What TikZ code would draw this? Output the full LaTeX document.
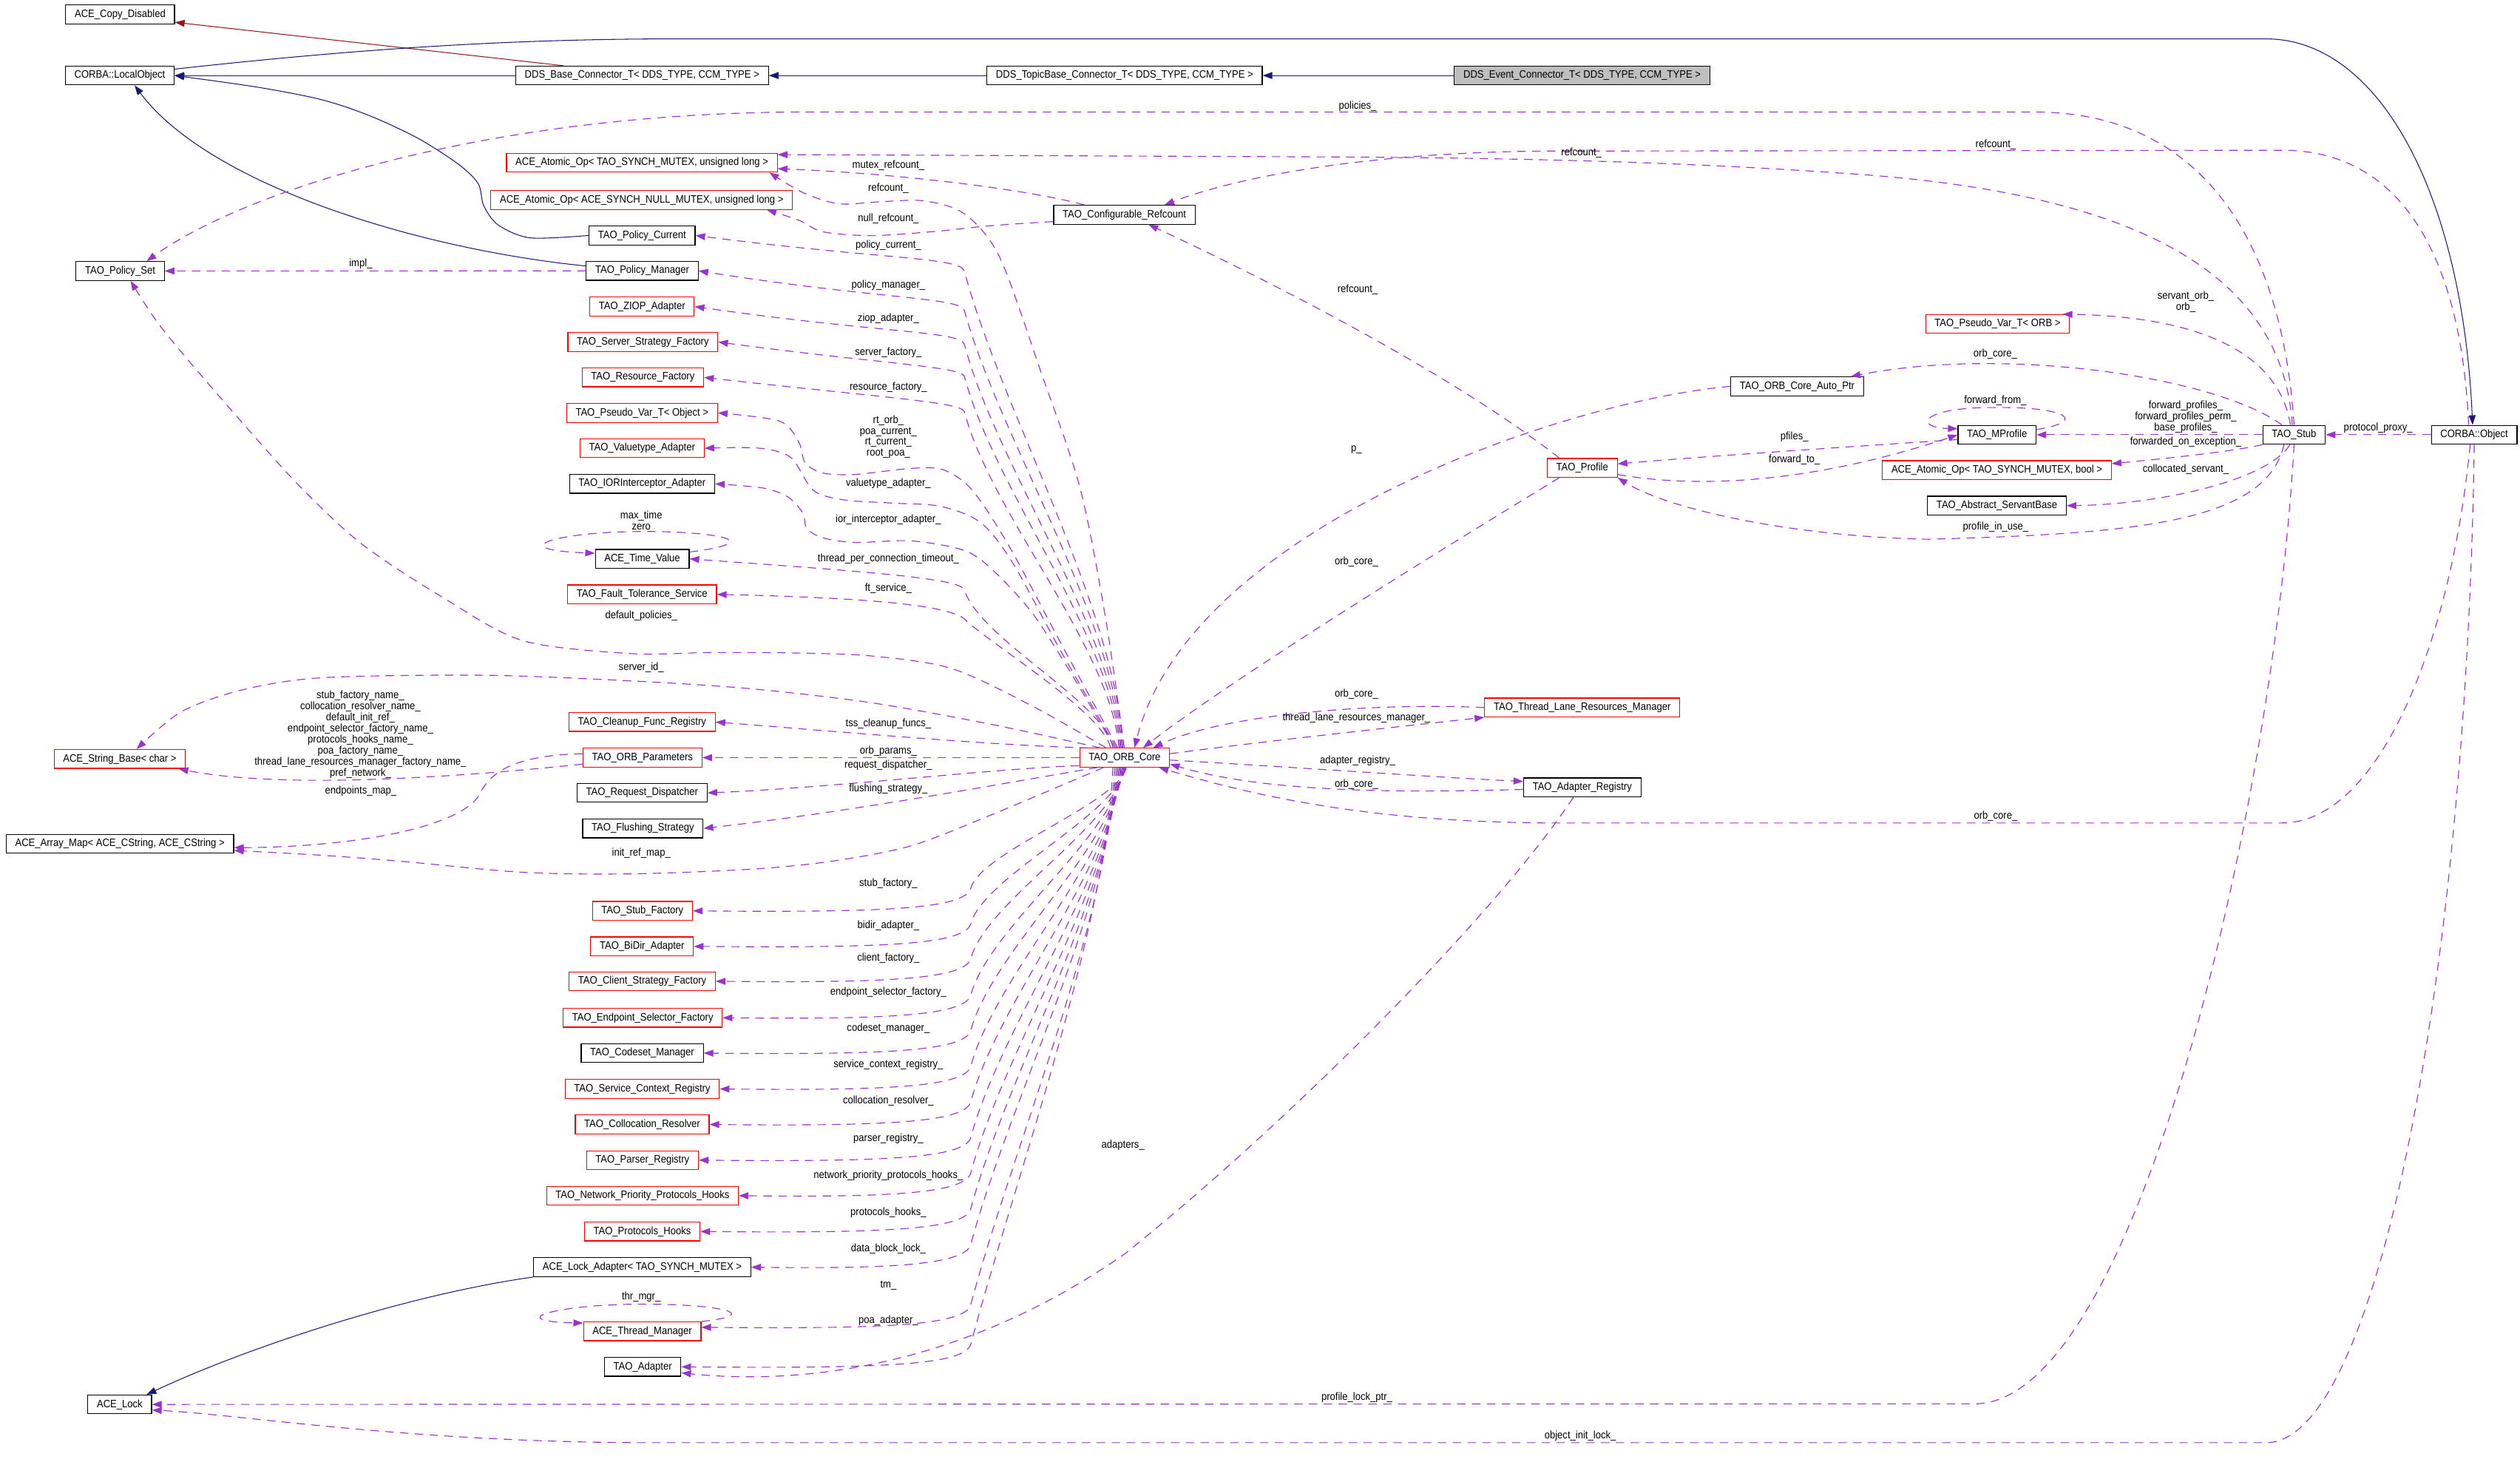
\documentclass[tikz,border=0pt]{standalone}
\usepackage{fontspec}
\newfontfamily\dotfont{Liberation Sans}[FakeStretch=0.9]
\usetikzlibrary{arrows.meta}
\definecolor{inhblue}{HTML}{191970}
\definecolor{privred}{HTML}{8B1A1A}
\definecolor{usepurple}{HTML}{9A32CD}
\newcommand{\dotsize}{\dotfont\fontsize{7.6pt}{7.8pt}\selectfont}
\tikzset{
    cls/.style={draw=black, fill=white, line width=0.6pt, font=\dotsize, inner xsep=0.225cm, inner ysep=0pt, minimum height=0.468cm},
    undoc/.style={cls, draw=red},
    self/.style={cls, fill=black!25},
    inherit/.style={draw=inhblue, line width=0.55pt, -{Triangle[length=0.24cm,width=0.17cm]}},
    privinherit/.style={inherit, draw=privred},
    assoc/.style={draw=usepurple, line width=0.6pt, dash pattern=on 6pt off 4.5pt, -{Triangle[length=0.24cm,width=0.17cm]}},
    lbl/.style={font=\dotsize, inner sep=0pt, align=center},
}
\begin{document}
\begin{tikzpicture}[x=0.04cm, y=-0.04cm]
\useasboundingbox (0,0) rectangle (1568,909.5);

%left column
\node[cls] (copy) at (74.75,9) {ACE\_Copy\_Disabled};
\node[cls] (lobj) at (74.5,47) {CORBA::LocalObject};
\node[cls] (pset) at (74.75,168.6) {TAO\_Policy\_Set};
\node[undoc] (sb) at (74.5,472.2) {ACE\_String\_Base< char >};
\node[cls] (am) at (74.6,524.9) {ACE\_Array\_Map< ACE\_CString, ACE\_CString >};
\node[cls] (lock) at (74.5,873.8) {ACE\_Lock};

%top row
\node[cls] (base) at (399.5,47) {DDS\_Base\_Connector\_T< DDS\_TYPE, CCM\_TYPE >};
\node[cls] (topic) at (699.75,47) {DDS\_TopicBase\_Connector\_T< DDS\_TYPE, CCM\_TYPE >};
\node[self] (event) at (984.4,47) {DDS\_Event\_Connector\_T< DDS\_TYPE, CCM\_TYPE >};

%member column
\node[undoc] (aotul) at (399.4,101.2) {ACE\_Atomic\_Op< TAO\_SYNCH\_MUTEX, unsigned long >};
\node[undoc] (aonul) at (399.25,124.4) {ACE\_Atomic\_Op< ACE\_SYNCH\_NULL\_MUTEX, unsigned long >};
\node[cls] (pcur) at (399.5,146.5) {TAO\_Policy\_Current};
\node[cls] (pman) at (399.6,168.5) {TAO\_Policy\_Manager};
\node[undoc] (ziop) at (399.5,190.7) {TAO\_ZIOP\_Adapter};
\node[undoc] (ssf) at (400,212.8) {TAO\_Server\_Strategy\_Factory};
\node[undoc] (rf) at (400,234.8) {TAO\_Resource\_Factory};
\node[undoc] (pvo) at (399.5,256.9) {TAO\_Pseudo\_Var\_T< Object >};
\node[undoc] (vta) at (399.5,278.9) {TAO\_Valuetype\_Adapter};
\node[cls] (iora) at (399.5,301) {TAO\_IORInterceptor\_Adapter};
\node[cls] (tv) at (399.6,347.7) {ACE\_Time\_Value};
\node[undoc] (fts) at (399.5,369.8) {TAO\_Fault\_Tolerance\_Service};
\node[undoc] (cfr) at (399.5,449.2) {TAO\_Cleanup\_Func\_Registry};
\node[undoc] (op) at (399.75,471.4) {TAO\_ORB\_Parameters};
\node[cls] (rd) at (399.5,493.3) {TAO\_Request\_Dispatcher};
\node[cls] (fs) at (400,515.4) {TAO\_Flushing\_Strategy};
\node[undoc] (sf) at (399.75,566.7) {TAO\_Stub\_Factory};
\node[undoc] (bda) at (399.5,588.8) {TAO\_BiDir\_Adapter};
\node[undoc] (csf) at (399.6,610.5) {TAO\_Client\_Strategy\_Factory};
\node[undoc] (esf) at (399.9,633.2) {TAO\_Endpoint\_Selector\_Factory};
\node[cls] (cm) at (399.6,655.2) {TAO\_Codeset\_Manager};
\node[undoc] (scr) at (399.6,677.5) {TAO\_Service\_Context\_Registry};
\node[undoc] (cr) at (399.6,699.6) {TAO\_Collocation\_Resolver};
\node[undoc] (pr) at (399.75,721.8) {TAO\_Parser\_Registry};
\node[undoc] (npph) at (399.75,743.9) {TAO\_Network\_Priority\_Protocols\_Hooks};
\node[undoc] (ph) at (399.6,766.2) {TAO\_Protocols\_Hooks};
\node[cls] (lad) at (399.6,788.4) {ACE\_Lock\_Adapter< TAO\_SYNCH\_MUTEX >};
\node[undoc] (tm) at (399.6,828.3) {ACE\_Thread\_Manager};
\node[cls] (ad) at (399.9,850.4) {TAO\_Adapter};

%middle and right
\node[undoc] (core) at (699.75,471.4) {TAO\_ORB\_Core};
\node[cls] (cref) at (699.6,133.6) {TAO\_Configurable\_Refcount};
\node[cls] (autop) at (1118.25,240.35) {TAO\_ORB\_Core\_Auto\_Ptr};
\node[undoc] (prof) at (984.5,291.1) {TAO\_Profile};
\node[undoc] (tlrm) at (984.5,440.2) {TAO\_Thread\_Lane\_Resources\_Manager};
\node[cls] (areg) at (984.5,489.9) {TAO\_Adapter\_Registry};
\node[undoc] (pvorb) at (1242.9,201.6) {TAO\_Pseudo\_Var\_T< ORB >};
\node[cls] (mprof) at (1242.6,270.5) {TAO\_MProfile};
\node[undoc] (aob) at (1242.5,292.5) {ACE\_Atomic\_Op< TAO\_SYNCH\_MUTEX, bool >};
\node[cls] (asb) at (1242.5,314.6) {TAO\_Abstract\_ServantBase};
\node[cls] (stub) at (1427.4,270.5) {TAO\_Stub};
\node[cls] (cobj) at (1539.5,270.5) {CORBA::Object};

%inheritance
\draw[inherit] (event) -- (topic);
\draw[inherit] (topic) -- (base);
\draw[inherit] (base) -- (lobj);
\draw[privinherit] ([xshift=1.2cm]base.north west) -- ([yshift=0.05cm]copy.south east);
\draw[inherit] ([yshift=0.16cm]lobj.east) .. controls (200,33) and (300,24.2) .. (420,24.2) -- (1410,24.2) .. controls (1480,24.2) and (1532,120) .. ([xshift=-0.04cm]cobj.north);
\draw[inherit] plot[smooth] coordinates {(pcur.west) (330,148) (310,140) (301,128) (297.5,114.2) (285,102) (260,86) (230,72) (200,62) (160,54.2) (lobj.east)};
\draw[inherit] ([yshift=0.12cm]pman.west) .. controls (260,155) and (130,115) .. ([xshift=0.37cm]lobj.south);
\draw[inherit] (lad.south west) .. controls (250,806) and (150,840) .. ([xshift=0.67cm]lock.north);

%members of the orb core, upper half
\draw[assoc] plot[smooth] coordinates {(core.92) (688,385) (672,303.6) (648,232.3) (622,160) (600,133) (575,125) (548,125.5) (522,126.8) (500,120) ([xshift=-0.21cm]aotul.south east)};
\draw[assoc] (core.100) .. controls (693.7,376) and (623.8,257.6) .. (600,168.5) .. controls (597.5,160) and (545,161) .. (pcur.east);
\draw[assoc] (core.105) .. controls (693.2,383) and (622,273) .. (600,193) .. controls (597.5,185) and (545,186) .. (pman.east);
\draw[assoc] (core.110) .. controls (692.6,390) and (620,290) .. (600,214) .. controls (597.5,206) and (545,207) .. (ziop.east);
\draw[assoc] (core.115) .. controls (692,396) and (618.5,304) .. (600,234) .. controls (597.5,228) and (545,226) .. (ssf.east);
\draw[assoc] (core.120) .. controls (691.3,403) and (616.7,320) .. (600,256) .. controls (597.5,250) and (545,247) .. (rf.east);
\draw[assoc] plot[smooth] coordinates {(core.125) (660,400) (628,340) (605,305) (587,292.3) (567,291.4) (532,295.2) (512,294.3) (501,288) (497,275) (485,262) (pvo.east)};
\draw[assoc] plot[smooth] coordinates {(core.130) (660,405) (630,350) (610,325) (585,315) (555,313) (525,311) (506,305) (492,284.6) (472,278.8) (vta.east)};
\draw[assoc] plot[smooth] coordinates {(core.135) (667,419.8) (642,381) (617,354) (599.5,342.3) (567,336.5) (532,337.5) (512,334.6) (502,328.8) (499.5,319.1) (490,309) (474.5,303.6) (iora.east)};
\draw[assoc] (core.140) .. controls (687.7,437) and (610,398) .. (600,367) .. controls (597.5,360) and (545,356) .. (tv.east);
\draw[assoc] (core.145) .. controls (686.3,443) and (615,400) .. (600,385) .. controls (590,377) and (545,372) .. (fts.east);
\draw[assoc] plot[smooth] coordinates {(core.152) (642,439.1) (592,415.9) (542,408.1) (492,406.2) (442,406) (392,406.6) (325,398.5) (275,371.4) (225,338.4) (185,301) (137.5,247.8) (100,203.3) ([xshift=0.26cm]pset.south)};
\draw[assoc] plot[smooth] coordinates {(core.158) (617,450.7) (542,437.2) (467,428.5) (392,423.6) (300,420.1) (200,421.7) (150,429.4) (112.5,443) ([xshift=0.42cm]sb.north)};
\draw[assoc] (core.165) .. controls (620,464) and (520,455) .. (cfr.east);
\draw[assoc] (core) -- (op);
\draw[assoc] (core.190) .. controls (620,478) and (520,490) .. (rd.east);
\draw[assoc] (core.200) .. controls (620,488) and (530,505) .. (fs.east);
\draw[assoc] plot[smooth] coordinates {(core.205) (617,506.9) (567,526.2) (517,535.9) (467,540.8) (392,543.7) (325,542.7) (250,535.9) (200,532.1) ([yshift=-0.17cm]am.east)};

%members of the orb core, lower half
\draw[assoc] (core.-80) .. controls (695.8,499.9) and (610,530.1) .. (604,552.7) .. controls (600,565.7) and (550,567.7) .. (sf.east);
\draw[assoc] (core.-85) .. controls (695.3,506.6) and (611.8,545.6) .. (604,574.8) .. controls (600,587.8) and (550,589.8) .. (bda.east);
\draw[assoc] (core.-90) .. controls (694.75,513.1) and (613.5,560.7) .. (604,596.5) .. controls (600,609.5) and (550,611.5) .. (csf.east);
\draw[assoc] (core.-95) .. controls (694.2,519.9) and (615.4,576.6) .. (604,619.2) .. controls (600,632.2) and (550,634.2) .. (esf.east);
\draw[assoc] (core.-100) .. controls (693.7,526.5) and (617.1,592) .. (604,641.2) .. controls (600,654.2) and (550,656.2) .. (cm.east);
\draw[assoc] (core.-105) .. controls (693.2,533.2) and (618.9,607.6) .. (604,663.5) .. controls (600,676.5) and (550,678.5) .. (scr.east);
\draw[assoc] (core.-110) .. controls (692.6,539.8) and (620.7,623.1) .. (604,685.6) .. controls (600,698.6) and (550,700.6) .. (cr.east);
\draw[assoc] (core.-115) .. controls (692,546.5) and (622.4,638.7) .. (604,707.8) .. controls (600,720.8) and (550,722.8) .. (pr.east);
\draw[assoc] (core.-120) .. controls (691.3,553.1) and (624.2,654.1) .. (604,729.9) .. controls (600,742.9) and (550,744.9) .. (npph.east);
\draw[assoc] (core.-125) .. controls (690.6,559.8) and (626,669.7) .. (604,752.2) .. controls (600,765.2) and (550,767.2) .. (ph.east);
\draw[assoc] (core.-130) .. controls (689.8,566.4) and (627.8,685.3) .. (604,774.4) .. controls (600,787.4) and (550,789.4) .. (lad.east);
\draw[assoc] (core.-135) .. controls (688.85,577.7) and (630.8,711.5) .. (604,811.8) .. controls (600,824.8) and (550,826.8) .. ([yshift=0.1cm]tm.east);
\draw[assoc] (core.-140) .. controls (687.7,580.8) and (631.6,732.9) .. (604,836.4) .. controls (600,849.4) and (550,851.4) .. (ad.east);

%refcounts
\draw[assoc] ([xshift=-1cm]cref.north) .. controls (640,118) and (560,108) .. ([yshift=-0.15cm]aotul.east);
\draw[assoc] plot[smooth] coordinates {([yshift=-0.17cm]cref.west) (617,140.4) (579.5,144.2) (542,146.6) (512,144.2) (497,137) ([xshift=-0.65cm]aonul.south east)};
\draw[assoc] ([xshift=-0.14cm]cobj.north) .. controls (1532,170) and (1500,93.5) .. (1420,93.5) -- (960,94) .. controls (850,95) and (770,110) .. ([xshift=1cm]cref.north);
\draw[assoc] (stub.100) .. controls (1420,170) and (1330,120) .. (1150,108) .. controls (1050,101) and (950,98) .. (800,97.5) -- ([yshift=0.2cm]aotul.east);
\draw[assoc] (stub.north) .. controls (1420,150) and (1370,69.7) .. (1266,69.7) -- (500,69.7) .. controls (300,70) and (150,120) .. ([xshift=0.66cm]pset.north);
\draw[assoc] ([xshift=-0.57cm]prof.north) .. controls (900,230) and (780,170) .. ([xshift=0.6cm]cref.south);

%orb core users
\draw[assoc] (autop.west) .. controls (970,250) and (740,330) .. (core.45);
\draw[assoc] ([xshift=-0.57cm]prof.south) .. controls (900,340) and (770,420) .. (core.28);
\draw[assoc] (tlrm.west) .. controls (850,437) and (760,445) .. (core.19);
\draw[assoc] (core.5) .. controls (780,462) and (880,451) .. (tlrm.south west);
\draw[assoc] (core.-3) .. controls (800,477) and (900,484) .. ([yshift=0.15cm]areg.west);
\draw[assoc] ([yshift=-0.05cm]areg.west) .. controls (880,493) and (790,494) .. (core.-8);
\draw[assoc] ([xshift=-0.1cm]cobj.south) .. controls (1525,400) and (1480,512) .. (1420,512) -- (960,512) .. controls (850,511) and (780,495) .. (core.-16);
\draw[assoc] ([xshift=-0.22cm]areg.south) .. controls (930,570) and (800,700) .. (700,780) .. controls (600,850) and (500,862) .. ([yshift=-0.15cm]ad.east);

%locks
\draw[assoc] (stub.south) .. controls (1415,500) and (1330,870) .. (1230,873.4) -- (lock.east);
\draw[assoc] (cobj.south) .. controls (1535,600) and (1480,897.6) .. (1410,897.6) -- (400,897.6) .. controls (250,897) and (150,880) .. ([yshift=-0.14cm]lock.east);

%stub and profiles
\draw[assoc] (stub.110) .. controls (1418,220) and (1370,197) .. ([xshift=-0.18cm]pvorb.north east);
\draw[assoc] ([xshift=-0.3cm]stub.north) .. controls (1380,235) and (1250,215) .. ([xshift=-0.33cm]autop.north east);
\draw[assoc] (stub) -- (mprof);
\draw[assoc] ([yshift=0.13cm]mprof.east) .. controls (1300,262) and (1285,253) .. (1242,253.6) .. controls (1195,253) and (1190,266) .. ([yshift=0.15cm]mprof.west);
\draw[assoc] ([yshift=-0.12cm]mprof.west) .. controls (1150,278) and (1060,284) .. ([yshift=0.1cm]prof.east);
\draw[assoc] ([yshift=0.08cm]prof.south east) .. controls (1080,308) and (1160,290) .. (mprof.west);
\draw[assoc] ([xshift=-0.25cm]stub.south) .. controls (1410,325) and (1330,332) .. (1200,335.5) .. controls (1120,334) and (1040,318) .. (prof.south east);
\draw[assoc] ([xshift=-0.1cm]stub.south) .. controls (1410,300) and (1340,314) .. (asb.east);
\draw[assoc] (stub.south west) .. controls (1390,281) and (1340,286) .. ([yshift=0.16cm]aob.east);
\draw[assoc] (cobj) -- (stub);

%policies, loops, parameters
\draw[assoc] (pman) -- (pset);
\draw[assoc] ([yshift=0.17cm]tv.east) .. controls (480,337) and (445,330.5) .. (400,330.7) .. controls (345,330.7) and (312,342) .. ([yshift=0.14cm]tv.west);
\draw[assoc] (tm.north east) .. controls (475,818) and (450,811.4) .. (400,811.4) .. controls (345,811.4) and (312,822) .. ([yshift=-0.04cm]tm.north west);
\draw[assoc] ([yshift=0.1cm]op.west) .. controls (320,470) and (305,480) .. (298,495) .. controls (285,515) and (220,527) .. ([yshift=-0.1cm]am.east);
\draw[assoc] ([yshift=-0.16cm]op.west) .. controls (300,482) and (180,492) .. ([xshift=-0.18cm]sb.south east);

%labels
\node[lbl] (limpl) at (224.5,164.2) {impl\_};
\node[lbl] (lpolicies) at (844.75,66) {policies\_};
\node[lbl] (lrefstub) at (984,94.9) {refcount\_};
\node[lbl] (lrefobj) at (1241.75,90) {refcount\_};
\node[lbl] (lmutex) at (552.75,102.8) {mutex\_refcount\_};
\node[lbl] (lrefcore) at (552.75,117) {refcount\_};
\node[lbl] (lnull) at (552.75,135.9) {null\_refcount\_};
\node[lbl] (lrefprof) at (844.75,180.4) {refcount\_};
\node[lbl] (lpcur) at (552.75,152.6) {policy\_current\_};
\node[lbl] (lpman) at (552.75,177.7) {policy\_manager\_};
\node[lbl] (lziop) at (552.75,198.4) {ziop\_adapter\_};
\node[lbl] (lssf) at (552.75,219.2) {server\_factory\_};
\node[lbl] (lrf) at (552.75,241.2) {resource\_factory\_};
\node[lbl] (lpvo) at (552.75,271.8) {rt\_orb\_\\poa\_current\_\\rt\_current\_\\root\_poa\_};
\node[lbl] (lvta) at (552.75,301) {valuetype\_adapter\_};
\node[lbl] (liora) at (552.75,323.2) {ior\_interceptor\_adapter\_};
\node[lbl] (ltvloop) at (399,323.9) {max\_time\\zero};
\node[lbl] (ltv) at (552.75,347.5) {thread\_per\_connection\_timeout\_};
\node[lbl] (lfts) at (552.75,366.3) {ft\_service\_};
\node[lbl] (ldefpol) at (399,383) {default\_policies\_};
\node[lbl] (lsrvid) at (399,415.1) {server\_id\_};
\node[lbl] (lnames) at (224.25,457) {stub\_factory\_name\_\\collocation\_resolver\_name\_\\default\_init\_ref\_\\endpoint\_selector\_factory\_name\_\\protocols\_hooks\_name\_\\poa\_factory\_name\_\\thread\_lane\_resources\_manager\_factory\_name\_\\pref\_network\_};
\node[lbl] (lendpts) at (224.5,492.4) {endpoints\_map\_};
\node[lbl] (linitref) at (399,531) {init\_ref\_map\_};
\node[lbl] (ltss) at (552.75,450.5) {tss\_cleanup\_funcs\_};
\node[lbl] (lop) at (552.75,467.2) {orb\_params\_};
\node[lbl] (lrd) at (552.75,476.3) {request\_dispatcher\_};
\node[lbl] (lfs) at (552.75,491) {flushing\_strategy\_};
\node[lbl] (lsf) at (552.75,549.9) {stub\_factory\_};
\node[lbl] (lbda) at (552.75,576) {bidir\_adapter\_};
\node[lbl] (lcsf) at (552.75,596) {client\_factory\_};
\node[lbl] (lesf) at (552.75,617.5) {endpoint\_selector\_factory\_};
\node[lbl] (lcm) at (552.75,639.7) {codeset\_manager\_};
\node[lbl] (lscr) at (552.75,662.4) {service\_context\_registry\_};
\node[lbl] (lcr) at (552.75,685) {collocation\_resolver\_};
\node[lbl] (lpr) at (552.75,708.6) {parser\_registry\_};
\node[lbl] (lnpph) at (552.75,731.3) {network\_priority\_protocols\_hooks\_};
\node[lbl] (lph) at (552.75,754.3) {protocols\_hooks\_};
\node[lbl] (llad) at (552.75,777) {data\_block\_lock\_};
\node[lbl] (ltmloop) at (399,807) {thr\_mgr\_};
\node[lbl] (ltm) at (552.75,799.6) {tm\_};
\node[lbl] (lad) at (552.75,821.5) {poa\_adapter\_};
\node[lbl] (ladapters) at (698.75,712.5) {adapters\_};
\node[lbl] (lproflock) at (844.25,869.5) {profile\_lock\_ptr\_};
\node[lbl] (lobjlock) at (983.25,893.3) {object\_init\_lock\_};
\node[lbl] (lp) at (844,279.8) {p\_};
\node[lbl] (lcoreprof) at (844,349.5) {orb\_core\_};
\node[lbl] (lcoretlrm) at (844,431.8) {orb\_core\_};
\node[lbl] (ltlrm) at (844,446.5) {thread\_lane\_resources\_manager\_};
\node[lbl] (lareg) at (844.75,473.2) {adapter\_registry\_};
\node[lbl] (lcoreareg) at (844,487.9) {orb\_core\_};
\node[lbl] (lcoreobj) at (1241.75,508) {orb\_core\_};
\node[lbl] (lpvorb) at (1360,187.8) {servant\_orb\_\\orb\_};
\node[lbl] (lcorestub) at (1241.5,220.3) {orb\_core\_};
\node[lbl] (lfwdfrom) at (1241.5,249.4) {forward\_from\_};
\node[lbl] (lprofiles) at (1360,259.2) {forward\_profiles\_\\forward\_profiles\_perm\_\\base\_profiles\_};
\node[lbl] (lpfiles) at (1116.5,272) {pfiles\_};
\node[lbl] (lfwdto) at (1116.5,286.1) {forward\_to\_};
\node[lbl] (lfwdexc) at (1360,275.1) {forwarded\_on\_exception\_};
\node[lbl] (lcolloc) at (1360,292.1) {collocated\_servant\_};
\node[lbl] (linuse) at (1241.75,327.8) {profile\_in\_use\_};
\node[lbl] (lproxy) at (1479.75,266.2) {protocol\_proxy\_};
\end{tikzpicture}
\end{document}
